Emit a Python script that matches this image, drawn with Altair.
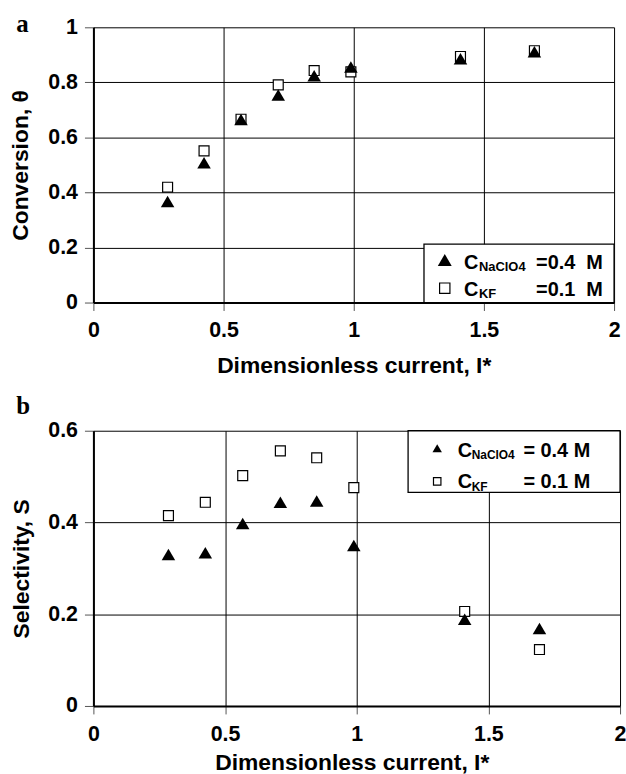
import altair as alt
import pandas as pd

# ---- data ----
x_current = [0.285, 0.425, 0.567, 0.71, 0.848, 0.989, 1.41, 1.694]
conv_naclo4 = [0.367, 0.508, 0.665, 0.754, 0.824, 0.856, 0.886, 0.911]
conv_kf = [0.419, 0.551, 0.666, 0.791, 0.843, 0.838, 0.894, 0.915]
sel_naclo4 = [0.330, 0.334, 0.398, 0.444, 0.447, 0.350, 0.189, 0.169]
sel_kf = [0.415, 0.444, 0.502, 0.556, 0.541, 0.476, 0.206, 0.123]

x_ticks = [0, 0.5, 1, 1.5, 2]
conv_ticks = [0, 0.2, 0.4, 0.6, 0.8, 1]
sel_ticks = [0, 0.2, 0.4, 0.6]

FONT = "Liberation Sans"
SERIF = "Liberation Serif"
TRI = "M-1,0.85L1,0.85L0,-0.85Z"

one = pd.DataFrame({"k": [0]})


def axis_common(**kw):
    base = dict(
        grid=True, gridColor="black", gridWidth=1, gridOpacity=1,
        domainColor="black", domainWidth=2,
        tickColor="#555", tickWidth=1,
        labelFont=FONT, labelFontWeight="bold", labelFontSize=21.5,
        labelColor="black", labelFlush=False, labelOverlap=False,
        titleFont=FONT, titleFontWeight="bold", titleFontSize=23,
        titleColor="black", titleBaseline="alphabetic", titleAlign="center",
        format="~g",
    )
    base.update(kw)
    return alt.Axis(**base)


def panel(W, H, ymax, yticks, ytitle, ytitle_x, xtitle_x, xtitle_y,
          tri_vals, sq_vals, letter, letter_y, legend):
    df = pd.DataFrame({"x": x_current, "tri": tri_vals, "sq": sq_vals})
    xenc = alt.X("x:Q", scale=alt.Scale(domain=[0, 2], nice=False, zero=False),
                 axis=axis_common(values=x_ticks, title="Dimensionless current, I*",
                                  tickSize=8, labelPadding=9.5,
                                  titleX=xtitle_x, titleY=xtitle_y))
    yscale = alt.Scale(domain=[0, ymax], nice=False, zero=False)
    yaxis = axis_common(values=yticks, title=ytitle, tickSize=9, labelPadding=7,
                        titleX=ytitle_x, titleY=H / 2, titleAngle=270)

    sq = alt.Chart(df).mark_point(shape="square", size=100, fill="white",
                                  stroke="black", strokeWidth=1.2, opacity=1,
                                  filled=False).encode(
        x=xenc, y=alt.Y("sq:Q", scale=yscale, axis=yaxis))
    tri = alt.Chart(df).mark_point(shape=TRI, size=185, fill="black", filled=True,
                                   strokeWidth=0, opacity=1).encode(
        x="x:Q", y=alt.Y("tri:Q", scale=yscale))

    L = legend
    box = alt.Chart(one).mark_rect(fill="white", stroke="black", strokeWidth=1.3).encode(
        x=alt.value(L["x1"]), x2=alt.value(L["x2"]), y=alt.value(L["y1"]), y2=alt.value(L["y2"]))
    ltri = alt.Chart(one).mark_point(shape=TRI, size=L["tsize"], fill="black", filled=True,
                                     strokeWidth=0, opacity=1).encode(
        x=alt.value(L["sx"]), y=alt.value(L["ty"]))
    lsq = alt.Chart(one).mark_point(shape="square", size=L["ssize"], fill="white",
                                    stroke="black", strokeWidth=1.2, opacity=1,
                                    filled=False).encode(
        x=alt.value(L["sx"]), y=alt.value(L["sy"]))

    def txt(t, x, y, size, align="left"):
        return alt.Chart(one).mark_text(font=FONT, fontWeight="bold", fontSize=size,
                                        align=align, baseline="alphabetic",
                                        color="black").encode(
            x=alt.value(x), y=alt.value(y), text=alt.value(t))

    texts = [
        txt("C", L["cx"], L["b1"], L["fs"]),
        txt("NaClO4", L["subx"], L["b1"] + 2.7, L["subfs"]),
        txt(L["t1"], L["rx"], L["b1"], L["fs"], "right"),
        txt("C", L["cx"], L["b2"], L["fs"]),
        txt("KF", L["subx"], L["b2"] + 2.7, L["subfs"]),
        txt(L["t2"], L["rx"], L["b2"], L["fs"], "right"),
    ]
    lab = alt.Chart(one).mark_text(font=SERIF, fontWeight="bold", fontSize=25,
                                   align="left", baseline="alphabetic",
                                   color="black").encode(
        x=alt.value(-77.7), y=alt.value(letter_y), text=alt.value(letter))

    return alt.layer(sq, tri, box, ltri, lsq, *texts, lab).properties(width=W, height=H)


leg_a = dict(x1=332.7, x2=524, y1=218.3, y2=277, sx=353.6, ty=234.2, sy=262.5,
             tsize=196, ssize=108, cx=373, subx=388, rx=512.7, b1=243, b2=270,
             fs=20, subfs=13, t1="=0.4\u00a0\u00a0M", t2="=0.1\u00a0\u00a0M")
leg_b = dict(x1=316.7, x2=530, y1=0, y2=62, sx=346, ty=17.7, sy=51,
             tsize=90, ssize=56, cx=366.7, subx=380.7, rx=500, b1=26, b2=57.7,
             fs=20, subfs=12, t1="= 0.4 M", t2="= 0.1 M")

pa = panel(524, 277, 1, conv_ticks, "Conversion, \u03b8", -66, 262, 70.3,
           conv_naclo4, conv_kf, "a", 4.3, leg_a)
pb = panel(530, 277, 0.6, sel_ticks, "Selectivity, S", -65.5, 260, 63.5,
           sel_naclo4, sel_kf, "b", -17.3, leg_b)

chart = alt.vconcat(pa, pb, spacing=15).properties(
    padding={"left": 10, "top": 9, "right": 0, "bottom": 0}
).configure_view(stroke=None)

chart.save("out.html", embed_options={"renderer": "svg", "actions": False})
